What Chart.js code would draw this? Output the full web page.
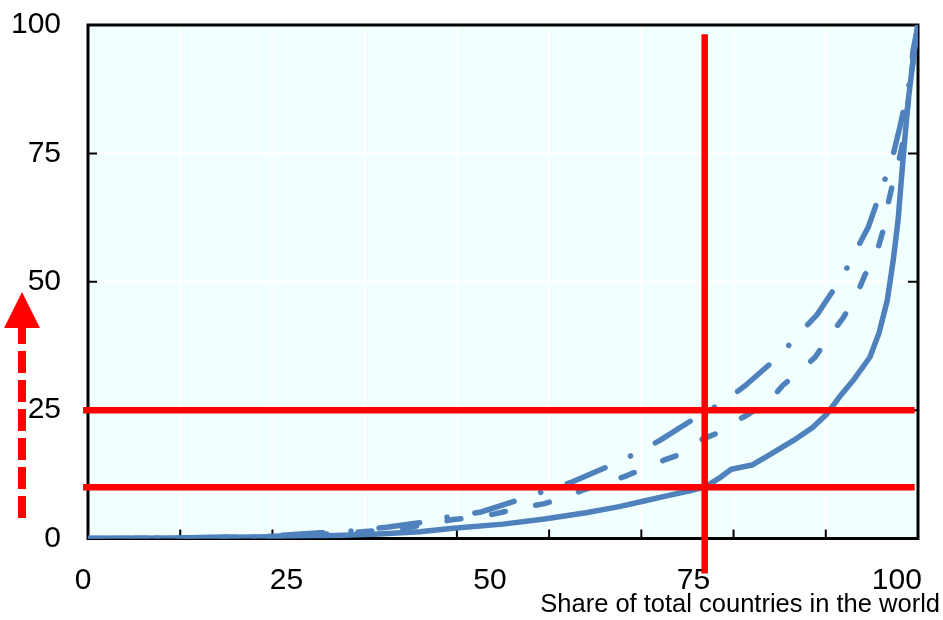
<!DOCTYPE html>
<html>
<head>
<meta charset="utf-8">
<script src="https://cdn.jsdelivr.net/npm/chart.js@4/dist/chart.umd.min.js"></script>
<style>
  html, body { margin: 0; padding: 0; background: #fff; }
  #wrap { width: 943px; height: 620px; }
</style>
</head>
<body>
<div id="wrap"><canvas id="chart"></canvas></div>
<script>
// Share of total countries (x) vs cumulative share (y), three curves
const solidX = [0, 10, 20, 30, 35, 40, 44, 50, 55, 60, 64, 67, 70, 72.5, 74.3, 76, 77.5, 80, 82, 85, 87.3, 89, 90.5, 92.2, 94.2, 95.3, 96.3, 97, 97.6, 98.1, 98.8, 99.4, 100];
const solidY = [0, 0.1, 0.3, 0.6, 0.9, 1.3, 2.0, 2.8, 3.8, 5.0, 6.2, 7.3, 8.4, 9.3, 10, 11.7, 13.5, 14.3, 16.2, 19.1, 21.6, 24.2, 27.5, 30.8, 35.3, 40, 46.4, 54, 62, 72, 85, 93, 100];

const dashX = [0, 10, 20, 28, 33, 38, 41, 44, 46.5, 49, 51.8, 55, 57.5, 59.6, 62, 64.7, 66.5, 69.3, 71, 73.7, 75.8, 78.2, 79.4, 82.4, 83.7, 86.1, 87.6, 89.6, 91, 92.7, 93.6, 95.1, 95.8, 96.4, 97, 97.8, 98.4, 98.9, 99.4, 100];
const dashY = [0, 0.1, 0.3, 0.8, 1.3, 2.0, 2.8, 3.7, 4.1, 4.8, 5.8, 6.8, 8.0, 9.4, 10.7, 12.1, 13.3, 15.2, 16.2, 19.1, 20.5, 23, 24, 27.3, 29.8, 33.1, 35.3, 40, 43, 47.8, 51.3, 56.1, 60, 65.3, 69.4, 74.3, 79, 86, 93, 100];

const dotX = [0, 10, 20, 28, 32, 36, 41, 44, 47.2, 52.4, 55.3, 58.3, 63.5, 66.3, 68.9, 73.7, 76.5, 79.2, 83.4, 85.5, 87.8, 91, 92.5, 94, 96, 97, 97.8, 99, 99.4, 100];
const dotY = [0, 0.1, 0.3, 1.1, 1.5, 2.2, 3.3, 4.4, 5.1, 7.8, 9.4, 11, 14.6, 16.8, 19.1, 24, 26.5, 29.8, 35.7, 39.6, 43.5, 51.3, 56, 60.6, 69.8, 74.7, 80, 89, 95, 100];

// red reference lines
const refLevels = [25, 10];
const refX = 74.3;
const refXSpan = [-0.6, 99.6];
const refYSpan = [98.2, -6.8];

const xLabelTicks = [0, 25, 50, 75, 100];
const yTicks = [0, 25, 50, 75, 100];
const xGridStep = 100 / 9;

const blue = '#4F81BD';
const red = '#FF0000';
const font = "'Liberation Sans Narrow', 'Arial Narrow', 'Liberation Sans', Arial, sans-serif";

const toPoints = (xs, ys) => xs.map((x, i) => ({ x: x, y: ys[i] }));

const datasets = [];
refLevels.forEach(lvl => {
    datasets.push({
        data: [{ x: refXSpan[0], y: lvl }, { x: refXSpan[1], y: lvl }],
        borderColor: red, borderWidth: 6.5, pointRadius: 0, clip: false, order: 0
    });
});
datasets.push({
    data: [{ x: refX, y: refYSpan[0] }, { x: refX, y: refYSpan[1] }],
    borderColor: red, borderWidth: 6.5, pointRadius: 0, clip: false, order: 0
});
datasets.push({
    data: toPoints(solidX, solidY),
    borderColor: blue, borderWidth: 5.5, pointRadius: 0,
    borderCapStyle: 'round', borderJoinStyle: 'round', order: 1
});
datasets.push({
    data: toPoints(dashX, dashY),
    borderColor: blue, borderWidth: 5.5, pointRadius: 0, borderDash: [14, 31],
    borderCapStyle: 'round', borderJoinStyle: 'round', order: 1
});
datasets.push({
    data: toPoints(dotX, dotY),
    borderColor: blue, borderWidth: 5.5, pointRadius: 0, borderDash: [41, 28, 0.1, 28],
    borderCapStyle: 'round', borderJoinStyle: 'round', order: 1
});

const noPad = s => { s.paddingLeft = 0; s.paddingRight = 0; s.paddingTop = 0; s.paddingBottom = 0; };

// background, frame with inward ticks, and the dashed arrow on the left
const decorPlugin = {
    id: 'decor',
    beforeDraw(chart) {
        const a = chart.chartArea, ctx = chart.ctx;
        ctx.save();
        ctx.fillStyle = '#F2FFFF';
        ctx.fillRect(a.left, a.top, a.right - a.left, a.bottom - a.top);
        ctx.restore();
    },
    beforeDatasetsDraw(chart) {
        const a = chart.chartArea, ctx = chart.ctx;
        const xs = chart.scales.x, ys = chart.scales.y;
        ctx.save();
        ctx.strokeStyle = '#000';
        ctx.lineWidth = 2;
        ctx.beginPath();
        xs.ticks.forEach(t => {
            if (t.value <= 0 || t.value >= 100) return;
            const px = xs.getPixelForValue(t.value);
            ctx.moveTo(px, a.bottom);
            ctx.lineTo(px, a.bottom - 9);
        });
        ys.ticks.forEach(t => {
            if (t.value <= 0 || t.value >= 100) return;
            const py = ys.getPixelForValue(t.value);
            ctx.moveTo(a.left, py);
            ctx.lineTo(a.left + 9, py);
            ctx.moveTo(a.right, py);
            ctx.lineTo(a.right - 10, py);
        });
        ctx.stroke();
        ctx.lineWidth = 3;
        ctx.strokeRect(a.left, a.top, a.right - a.left, a.bottom - a.top);
        ctx.restore();
    },
    afterDraw(chart) {
        const a = chart.chartArea, ctx = chart.ctx, ys = chart.scales.y;
        const x = a.left - 66;
        const yBottom = ys.getPixelForValue(4);
        const yBase = ys.getPixelForValue(41);
        const yTip = ys.getPixelForValue(48);
        ctx.save();
        ctx.strokeStyle = red;
        ctx.fillStyle = red;
        ctx.lineWidth = 8;
        ctx.setLineDash([22, 7]);
        ctx.beginPath();
        ctx.moveTo(x, yBottom);
        ctx.lineTo(x, yBase);
        ctx.stroke();
        ctx.beginPath();
        ctx.moveTo(x - 18, yBase);
        ctx.lineTo(x + 18, yBase);
        ctx.lineTo(x, yTip);
        ctx.closePath();
        ctx.fill();
        ctx.restore();
    }
};

new Chart(document.getElementById('chart'), {
    type: 'line',
    data: { datasets: datasets },
    options: {
        responsive: true,
        maintainAspectRatio: false,
        animation: false,
        layout: { padding: { top: 25, right: 3, left: 0, bottom: 0 } },
        plugins: {
            legend: { display: false },
            tooltip: { enabled: false },
            title: {
                display: true,
                position: 'bottom',
                align: 'end',
                text: 'Share of total countries in the world',
                color: '#000',
                font: { family: font, size: 25.5, weight: 'normal', lineHeight: 1 },
                padding: { top: 0, bottom: 2 }
            }
        },
        scales: {
            x: {
                type: 'linear', position: 'bottom', min: 0, max: 100,
                afterBuildTicks: s => {
                    const t = [];
                    for (let i = 0; i <= 9; i++) t.push({ value: i * xGridStep });
                    s.ticks = t;
                },
                ticks: { display: false },
                grid: { color: '#FFFFFF', lineWidth: 2, drawTicks: false },
                border: { display: false },
                afterFit: s => { s.height = 0; noPad(s); }
            },
            // label axis: slightly shifted range so labels sit where the original puts them
            x2: {
                type: 'linear', position: 'bottom', min: 0.6, max: 102.6,
                afterBuildTicks: s => { s.ticks = xLabelTicks.map(v => ({ value: v })); },
                ticks: {
                    color: '#000', padding: 24, maxRotation: 0,
                    font: { family: font, size: 30 }
                },
                grid: { display: false, drawTicks: false },
                border: { display: false },
                afterFit: s => { s.height = 54; noPad(s); }
            },
            y: {
                type: 'linear', position: 'left', min: 0, max: 100,
                afterBuildTicks: s => { s.ticks = yTicks.map(v => ({ value: v })); },
                ticks: { color: '#000', padding: 27, font: { family: font, size: 30 } },
                grid: { color: '#FFFFFF', lineWidth: 2, drawTicks: false },
                border: { display: false },
                afterFit: s => { s.width = 88; noPad(s); }
            },
            y2: {
                type: 'linear', position: 'right', min: 0, max: 100,
                ticks: { display: false },
                grid: { display: false, drawTicks: false },
                border: { display: false },
                afterFit: s => { s.width = 22; noPad(s); }
            }
        }
    },
    plugins: [decorPlugin]
});
</script>
</body>
</html>
